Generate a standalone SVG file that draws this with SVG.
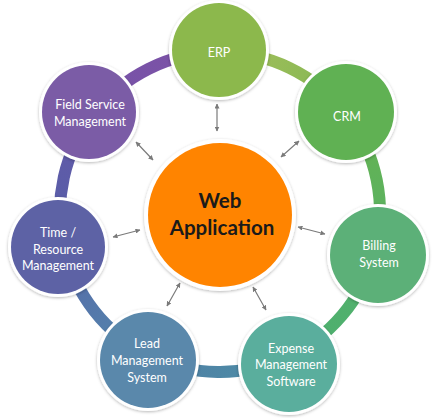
<svg xmlns="http://www.w3.org/2000/svg" width="437" height="418" viewBox="0 0 437 418">
<style>
.ring{fill:none;stroke-width:12}
.halo{fill:#fff;filter:url(#sh)}
.lbl{font-family:Lato,"Liberation Sans",sans-serif;font-size:12.5px;fill:#fff;text-anchor:middle}
.ctr{font-family:Lato,"Liberation Sans",sans-serif;font-size:20.5px;font-weight:bold;fill:#1a1a1a;text-anchor:middle}
.arr{stroke:#7a7a7a;stroke-width:1.2;fill:none;marker-start:url(#ah);marker-end:url(#ah)}
</style>
<defs>
<filter id="sh" x="-20%" y="-20%" width="140%" height="140%">
<feDropShadow dx="0" dy="1" stdDeviation="1.6" flood-color="#000" flood-opacity="0.28"/>
</filter>
<marker id="ah" viewBox="0 0 10 10" refX="9" refY="5" markerWidth="5" markerHeight="5" orient="auto-start-reverse" markerUnits="userSpaceOnUse">
<path d="M0,0 L10,5 L0,10 z" fill="#7a7a7a"/>
</marker>
<linearGradient id="g1" gradientUnits="userSpaceOnUse" x1="219" y1="52" x2="346" y2="113"><stop offset="0" stop-color="#a6c05c"/><stop offset="1" stop-color="#80b652"/></linearGradient>
<linearGradient id="g2" gradientUnits="userSpaceOnUse" x1="346" y1="113" x2="375" y2="253"><stop offset="0" stop-color="#66b24f"/><stop offset="1" stop-color="#58b265"/></linearGradient>
<linearGradient id="g3" gradientUnits="userSpaceOnUse" x1="375" y1="253" x2="286" y2="358"><stop offset="0" stop-color="#55b26c"/><stop offset="1" stop-color="#4bae6f"/></linearGradient>
<linearGradient id="g4" gradientUnits="userSpaceOnUse" x1="286" y1="358" x2="150" y2="356"><stop offset="0" stop-color="#4c8ea6"/><stop offset="1" stop-color="#507fa5"/></linearGradient>
<linearGradient id="g5" gradientUnits="userSpaceOnUse" x1="150" y1="356" x2="64" y2="246"><stop offset="0" stop-color="#5189ad"/><stop offset="1" stop-color="#5868a8"/></linearGradient>
<linearGradient id="g6" gradientUnits="userSpaceOnUse" x1="64" y1="246" x2="93" y2="115"><stop offset="0" stop-color="#5560a8"/><stop offset="1" stop-color="#6458a8"/></linearGradient>
<linearGradient id="g7" gradientUnits="userSpaceOnUse" x1="93" y1="115" x2="219" y2="52"><stop offset="0" stop-color="#7553a8"/><stop offset="1" stop-color="#7e52a6"/></linearGradient>
</defs>
<rect width="437" height="418" fill="#fff"/>
<g id="connectors">
<path class="ring" stroke="url(#g1)" d="M218.9,52 A160,160 0 0 1 345.7,113.1"/>
<path class="ring" stroke="url(#g2)" d="M345.7,113.1 A160,160 0 0 1 374.6,253.1"/>
<path class="ring" stroke="url(#g3)" d="M374.6,253.1 A160,160 0 0 1 285.8,357.8"/>
<path class="ring" stroke="url(#g4)" d="M285.8,357.8 A160,160 0 0 1 149.9,355.8"/>
<path class="ring" stroke="url(#g5)" d="M149.9,355.8 A160,160 0 0 1 63.6,245.8"/>
<path class="ring" stroke="url(#g6)" d="M63.6,245.8 A160,160 0 0 1 92.9,114.8"/>
<path class="ring" stroke="url(#g7)" d="M92.9,114.8 A160,160 0 0 1 218.9,52"/>
<line class="arr" x1="217" y1="104" x2="217" y2="131"/>
<line class="arr" x1="281" y1="157" x2="299" y2="141"/>
<line class="arr" x1="136" y1="142" x2="153" y2="160"/>
<line class="arr" x1="113" y1="237" x2="140" y2="230"/>
<line class="arr" x1="298" y1="227" x2="325" y2="234"/>
<line class="arr" x1="180" y1="283" x2="167" y2="306"/>
<line class="arr" x1="253" y1="287" x2="266" y2="310"/>
</g>
<g id="center">
<circle class="halo" cx="220" cy="215" r="76"/>
<circle cx="220" cy="215" r="72" fill="#ff8400"/>
<text class="ctr" x="220" y="208">Web</text>
<text class="ctr" x="222" y="235">Application</text>
</g>
<g id="erp">
<circle class="halo" cx="219" cy="50" r="50"/>
<circle cx="219" cy="50" r="47" fill="#8cb84c"/>
<text class="lbl" x="219" y="57">ERP</text>
</g>
<g id="crm">
<circle class="halo" cx="346" cy="112" r="51"/>
<circle cx="346" cy="112" r="48" fill="#60b153"/>
<text class="lbl" x="347" y="121">CRM</text>
</g>
<g id="billing">
<circle class="halo" cx="378" cy="255" r="51"/>
<circle cx="378" cy="255" r="48" fill="#5cb078"/>
<text class="lbl" x="379" y="250">Billing</text>
<text class="lbl" x="379" y="267">System</text>
</g>
<g id="expense">
<circle class="halo" cx="289" cy="364" r="51"/>
<circle cx="289" cy="364" r="48" fill="#5aae9d"/>
<text class="lbl" x="291" y="353">Expense</text>
<text class="lbl" x="291" y="369">Management</text>
<text class="lbl" x="291" y="386">Software</text>
</g>
<g id="lead">
<circle class="halo" cx="148" cy="360" r="51"/>
<circle cx="148" cy="360" r="48" fill="#5a88ab"/>
<text class="lbl" x="147" y="348">Lead</text>
<text class="lbl" x="147" y="365">Management</text>
<text class="lbl" x="147" y="382">System</text>
</g>
<g id="time">
<circle class="halo" cx="58" cy="247" r="50"/>
<circle cx="58" cy="247" r="47" fill="#5d62a5"/>
<text class="lbl" x="58" y="237">Time /</text>
<text class="lbl" x="58" y="254">Resource</text>
<text class="lbl" x="58" y="270">Management</text>
</g>
<g id="field">
<circle class="halo" cx="89" cy="112" r="50"/>
<circle cx="89" cy="112" r="47" fill="#7b5ca6"/>
<text class="lbl" x="90" y="109">Field Service</text>
<text class="lbl" x="90" y="126">Management</text>
</g>
</svg>
